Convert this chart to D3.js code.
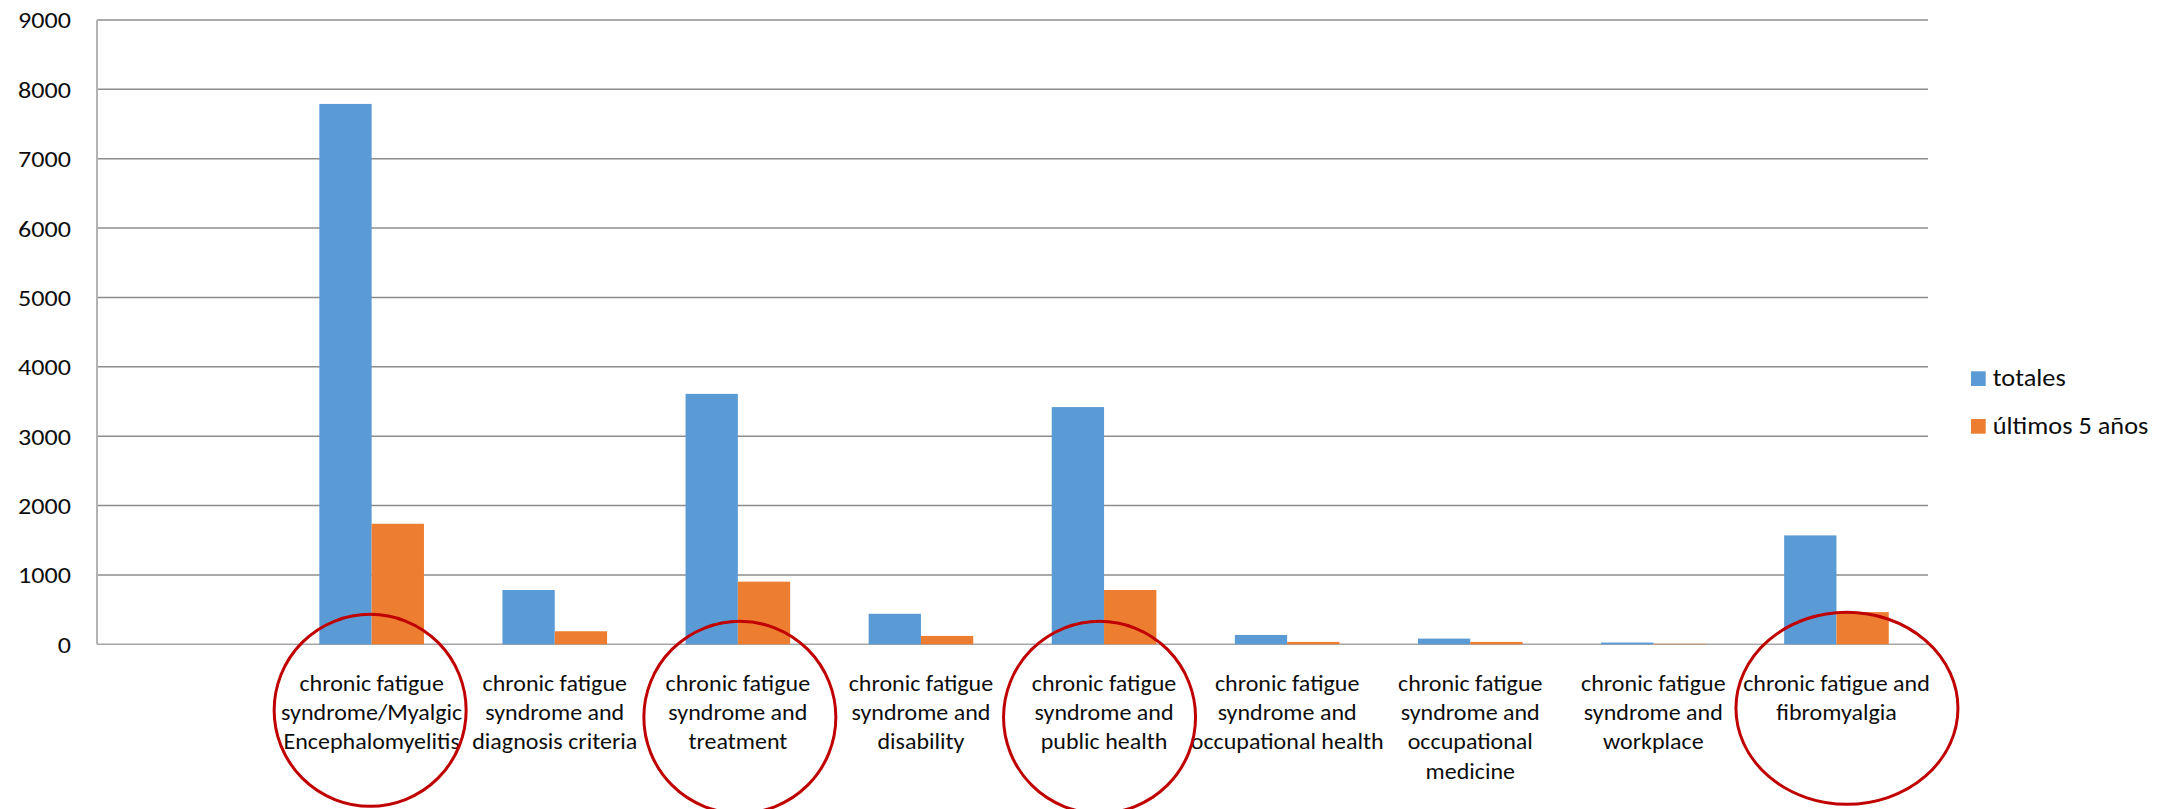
<!DOCTYPE html>
<html>
<head>
<meta charset="utf-8">
<script src="https://cdn.jsdelivr.net/npm/d3@7"></script>
<style>
  html, body { margin: 0; padding: 0; background: #fff; }
  svg { display: block; }
  text { font-family: Carlito, Calibri, Lato, "Open Sans", sans-serif; fill: #0d0d0d; }
</style>
</head>
<body>
<svg id="chart" width="2175" height="809"></svg>
<script>
// Categories (first slot is intentionally empty), wrapped exactly as printed
const categoryLines = [
  [],
  ["chronic fatigue", "syndrome/Myalgic", "Encephalomyelitis"],
  ["chronic fatigue", "syndrome and", "diagnosis criteria"],
  ["chronic fatigue", "syndrome and", "treatment"],
  ["chronic fatigue", "syndrome and", "disability"],
  ["chronic fatigue", "syndrome and", "public health"],
  ["chronic fatigue", "syndrome and", "occupational health"],
  ["chronic fatigue", "syndrome and", "occupational", "medicine"],
  ["chronic fatigue", "syndrome and", "workplace"],
  ["chronic fatigue and", "fibromyalgia"]
];

// Series values
const totales = [null, 7790, 783, 3610, 440, 3420, 135, 82, 25, 1570];
const ultimos = [null, 1738, 188, 903, 121, 783, 34, 34, 6, 464];

const seriesNames = ["totales", "últimos 5 años"];
const seriesColors = ["#5B9BD5", "#ED7D31"];

// Value axis ticks
const yTicks = [0, 1000, 2000, 3000, 4000, 5000, 6000, 7000, 8000, 9000];

// Categories circled in red
const circled = [1, 3, 5, 9];
const circleShift = [-1.5, 2, -4.5, 10.5];
const circleDrop = [66, 73, 73, 64];
const circleRx = [96, 96, 96, 111];
const circleRy = [96, 96, 96, 96];

// ---- layout ----
const plot = { left: 97, right: 1928, top: 20, bottom: 644.3 };
const svg = d3.select("#chart");

const x0 = d3.scaleBand()
  .domain(d3.range(categoryLines.length))
  .range([plot.left, plot.right])
  .padding(0);

const x1 = d3.scaleBand()
  .domain([0, 1])
  .range([0, x0.bandwidth()])
  .paddingInner(0)
  .paddingOuter(0.75);

const y = d3.scaleLinear().domain([0, 9000]).range([plot.bottom, plot.top]);

// horizontal scale needed so a sample string has a given width
function fitScale(sample, size, target) {
  const t = svg.append("text").attr("font-size", size).text(sample);
  const w = t.node().getComputedTextLength();
  t.remove();
  return target / w;
}

// ---- gridlines ----
svg.append("g")
  .selectAll("line")
  .data(yTicks)
  .join("line")
  .attr("x1", plot.left)
  .attr("x2", plot.right)
  .attr("y1", d => y(d))
  .attr("y2", d => y(d))
  .attr("stroke", d => d === 0 ? "#a6a6a6" : "#8c8c8c")
  .attr("stroke-width", 1.5);

// y axis line
svg.append("line")
  .attr("x1", plot.left).attr("x2", plot.left)
  .attr("y1", plot.top).attr("y2", plot.bottom)
  .attr("stroke", "#b3b3b3")
  .attr("stroke-width", 2);

// ---- y tick labels ----
const tickSize = 23;
const tickK = fitScale("9000", tickSize, 53);
svg.append("g")
  .selectAll("text")
  .data(yTicks)
  .join("text")
  .attr("font-size", tickSize)
  .attr("text-anchor", "end")
  .attr("dominant-baseline", "central")
  .attr("transform", d => `translate(${plot.left - 26},${y(d) + 1}) scale(${tickK},1)`)
  .text(d => d);

// ---- bars ----
const rows = categoryLines.map((_, i) => ({ i, vals: [totales[i], ultimos[i]] }));
const groups = svg.append("g")
  .selectAll("g")
  .data(rows.filter(r => r.vals[0] !== null))
  .join("g")
  .attr("transform", d => `translate(${x0(d.i)},0)`);

groups.selectAll("rect")
  .data(d => d.vals.map((v, s) => ({ v, s })))
  .join("rect")
  .attr("x", d => x1(d.s))
  .attr("width", x1.bandwidth())
  .attr("y", d => y(d.v))
  .attr("height", d => y(0) - y(d.v))
  .attr("fill", d => seriesColors[d.s]);

// ---- category labels ----
const catSize = 23;
const catK = fitScale("chronic fatigue", catSize, 144.6);
const lineGap = 29.3;
svg.append("g")
  .selectAll("text")
  .data(rows)
  .join("text")
  .attr("font-size", catSize)
  .attr("text-anchor", "middle")
  .attr("transform", d => `translate(${x0(d.i) + x0.bandwidth() / 2},${plot.bottom + 46.5}) scale(${catK},1)`)
  .selectAll("tspan")
  .data(d => categoryLines[d.i])
  .join("tspan")
  .attr("x", 0)
  .attr("y", (d, k) => k * lineGap)
  .text(d => d);

// ---- red circles around highlighted categories ----
svg.append("g")
  .selectAll("ellipse")
  .data(circled)
  .join("ellipse")
  .attr("cx", (c, k) => x0(c) + x0.bandwidth() / 2 + circleShift[k])
  .attr("cy", (c, k) => plot.bottom + circleDrop[k])
  .attr("rx", (c, k) => circleRx[k])
  .attr("ry", (c, k) => circleRy[k])
  .attr("fill", "none")
  .attr("stroke", "#C00000")
  .attr("stroke-width", 3);

// ---- legend ----
const legSize = 24;
const legK = fitScale("últimos 5 años", legSize, 155.7);
const legend = svg.append("g")
  .selectAll("g")
  .data(seriesNames)
  .join("g")
  .attr("transform", (d, k) => `translate(1971,${371.3 + k * 47.7})`);

legend.append("rect")
  .attr("width", 14.7)
  .attr("height", 14.7)
  .attr("fill", (d, k) => seriesColors[k]);

legend.append("text")
  .attr("font-size", legSize)
  .attr("transform", `translate(21.7,14.7) scale(${legK},1)`)
  .text(d => d);
</script>
</body>
</html>
